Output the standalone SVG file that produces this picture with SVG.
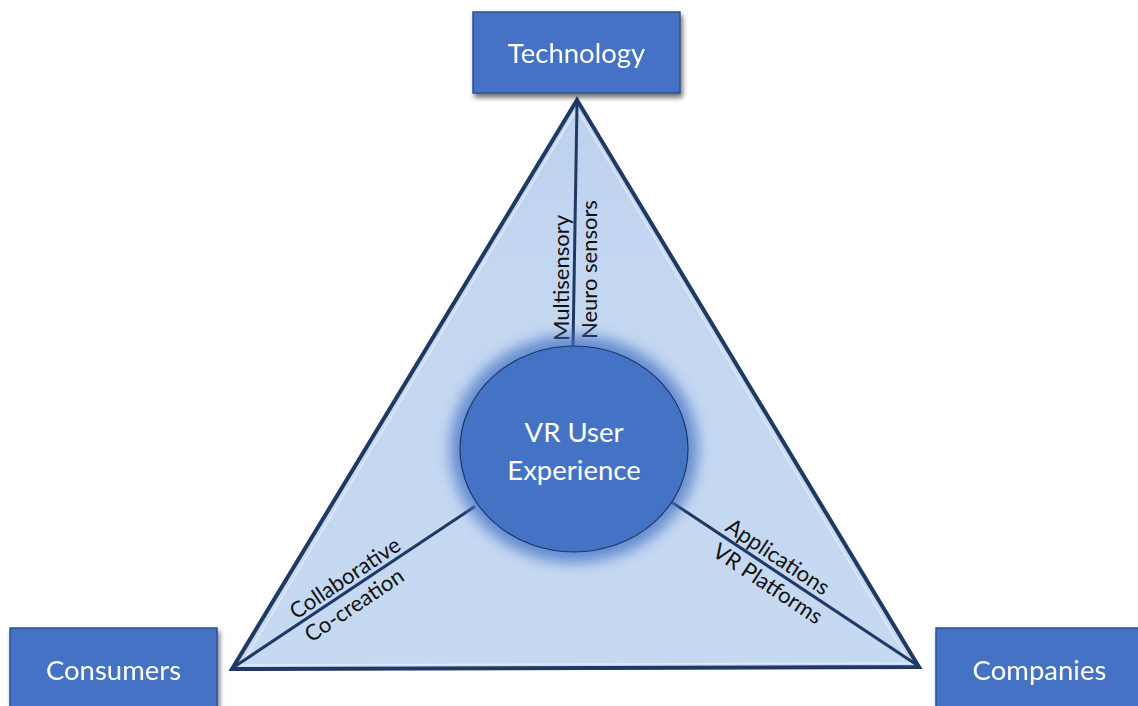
<svg xmlns="http://www.w3.org/2000/svg" width="1138" height="706" viewBox="0 0 1138 706">
  <defs>
    <style>
      .box { fill: #4472c4; stroke: #2f528f; stroke-width: 1.5; }
      .box-text { font-family: Lato, "Liberation Sans", sans-serif; font-size: 27.5px; fill: #ffffff; text-anchor: middle; }
      .label { font-family: Lato, "Liberation Sans", sans-serif; font-size: 22px; fill: #111111; }
      .spoke { stroke: #1f3864; stroke-width: 3; stroke-linecap: round; fill: none; }
    </style>
    <filter id="shadow" x="-10%" y="-10%" width="125%" height="140%">
      <feGaussianBlur in="SourceAlpha" stdDeviation="2.5"/>
      <feOffset dx="2" dy="4" result="b"/>
      <feComponentTransfer><feFuncA type="linear" slope="0.55"/></feComponentTransfer>
      <feMerge><feMergeNode/><feMergeNode in="SourceGraphic"/></feMerge>
    </filter>
    <filter id="glow" x="-30%" y="-30%" width="160%" height="160%">
      <feGaussianBlur stdDeviation="7"/>
    </filter>
    <linearGradient id="boxFill" x1="0" y1="0" x2="0" y2="1">
      <stop offset="0" stop-color="#4d7bcd"/>
      <stop offset="1" stop-color="#4270c2"/>
    </linearGradient>
    <linearGradient id="triFill" x1="0" y1="0" x2="0" y2="1">
      <stop offset="0" stop-color="#bcd1ee"/>
      <stop offset="0.3" stop-color="#c4d7f1"/>
      <stop offset="1" stop-color="#c6d9f2"/>
    </linearGradient>
  </defs>

  <rect width="1138" height="706" fill="#ffffff"/>

  <!-- central triangle -->
  <g id="triangle">
    <polygon points="577,100 232,669 919,667" fill="url(#triFill)" stroke="#1f3864" stroke-width="4" stroke-linejoin="miter"/>
    <polygon points="577,109 241,665 910,663" fill="none" stroke="#e6eefa" stroke-width="1.5" opacity="0.8"/>
  </g>

  <!-- spokes from the corners to the centre -->
  <g id="connectors">
    <line class="spoke" x1="577" y1="104" x2="573" y2="347"/>
    <line class="spoke" x1="234" y1="667" x2="474" y2="507"/>
    <line class="spoke" x1="673" y1="503" x2="917" y2="665"/>
  </g>

  <!-- spoke labels -->
  <g id="labels">
    <text class="label" transform="translate(569,341) rotate(-90)">Multisensory</text>
    <text class="label" transform="translate(597,339) rotate(-90)">Neuro sensors</text>
    <text class="label" transform="translate(296,620) rotate(-33.8)">Collaborative</text>
    <text class="label" transform="translate(311,643) rotate(-33.8)">Co-creation</text>
    <text class="label" transform="translate(724,530) rotate(33.7)">Applications</text>
    <text class="label" transform="translate(711,555) rotate(33.7)">VR Platforms</text>
  </g>

  <!-- centre node -->
  <g id="vr-user-experience">
    <ellipse cx="574" cy="449" rx="124" ry="114" fill="#4472c4" opacity="0.75" filter="url(#glow)"/>
    <ellipse cx="574" cy="449" rx="114" ry="103" fill="#4472c4" stroke="#1f3864" stroke-width="1.2"/>
    <text class="box-text" x="574" y="442">VR User</text>
    <text class="box-text" x="574" y="480">Experience</text>
  </g>

  <!-- corner nodes -->
  <g id="technology" filter="url(#shadow)">
    <rect class="box" x="473" y="12" width="207" height="81" fill="url(#boxFill)"/>
    <text class="box-text" x="576.5" y="63">Technology</text>
  </g>
  <g id="consumers" filter="url(#shadow)">
    <rect class="box" x="10" y="628" width="207" height="81" fill="url(#boxFill)"/>
    <text class="box-text" x="113.5" y="680">Consumers</text>
  </g>
  <g id="companies" filter="url(#shadow)">
    <rect class="box" x="936" y="628" width="207" height="81" fill="url(#boxFill)"/>
    <text class="box-text" x="1039.5" y="680">Companies</text>
  </g>
</svg>
